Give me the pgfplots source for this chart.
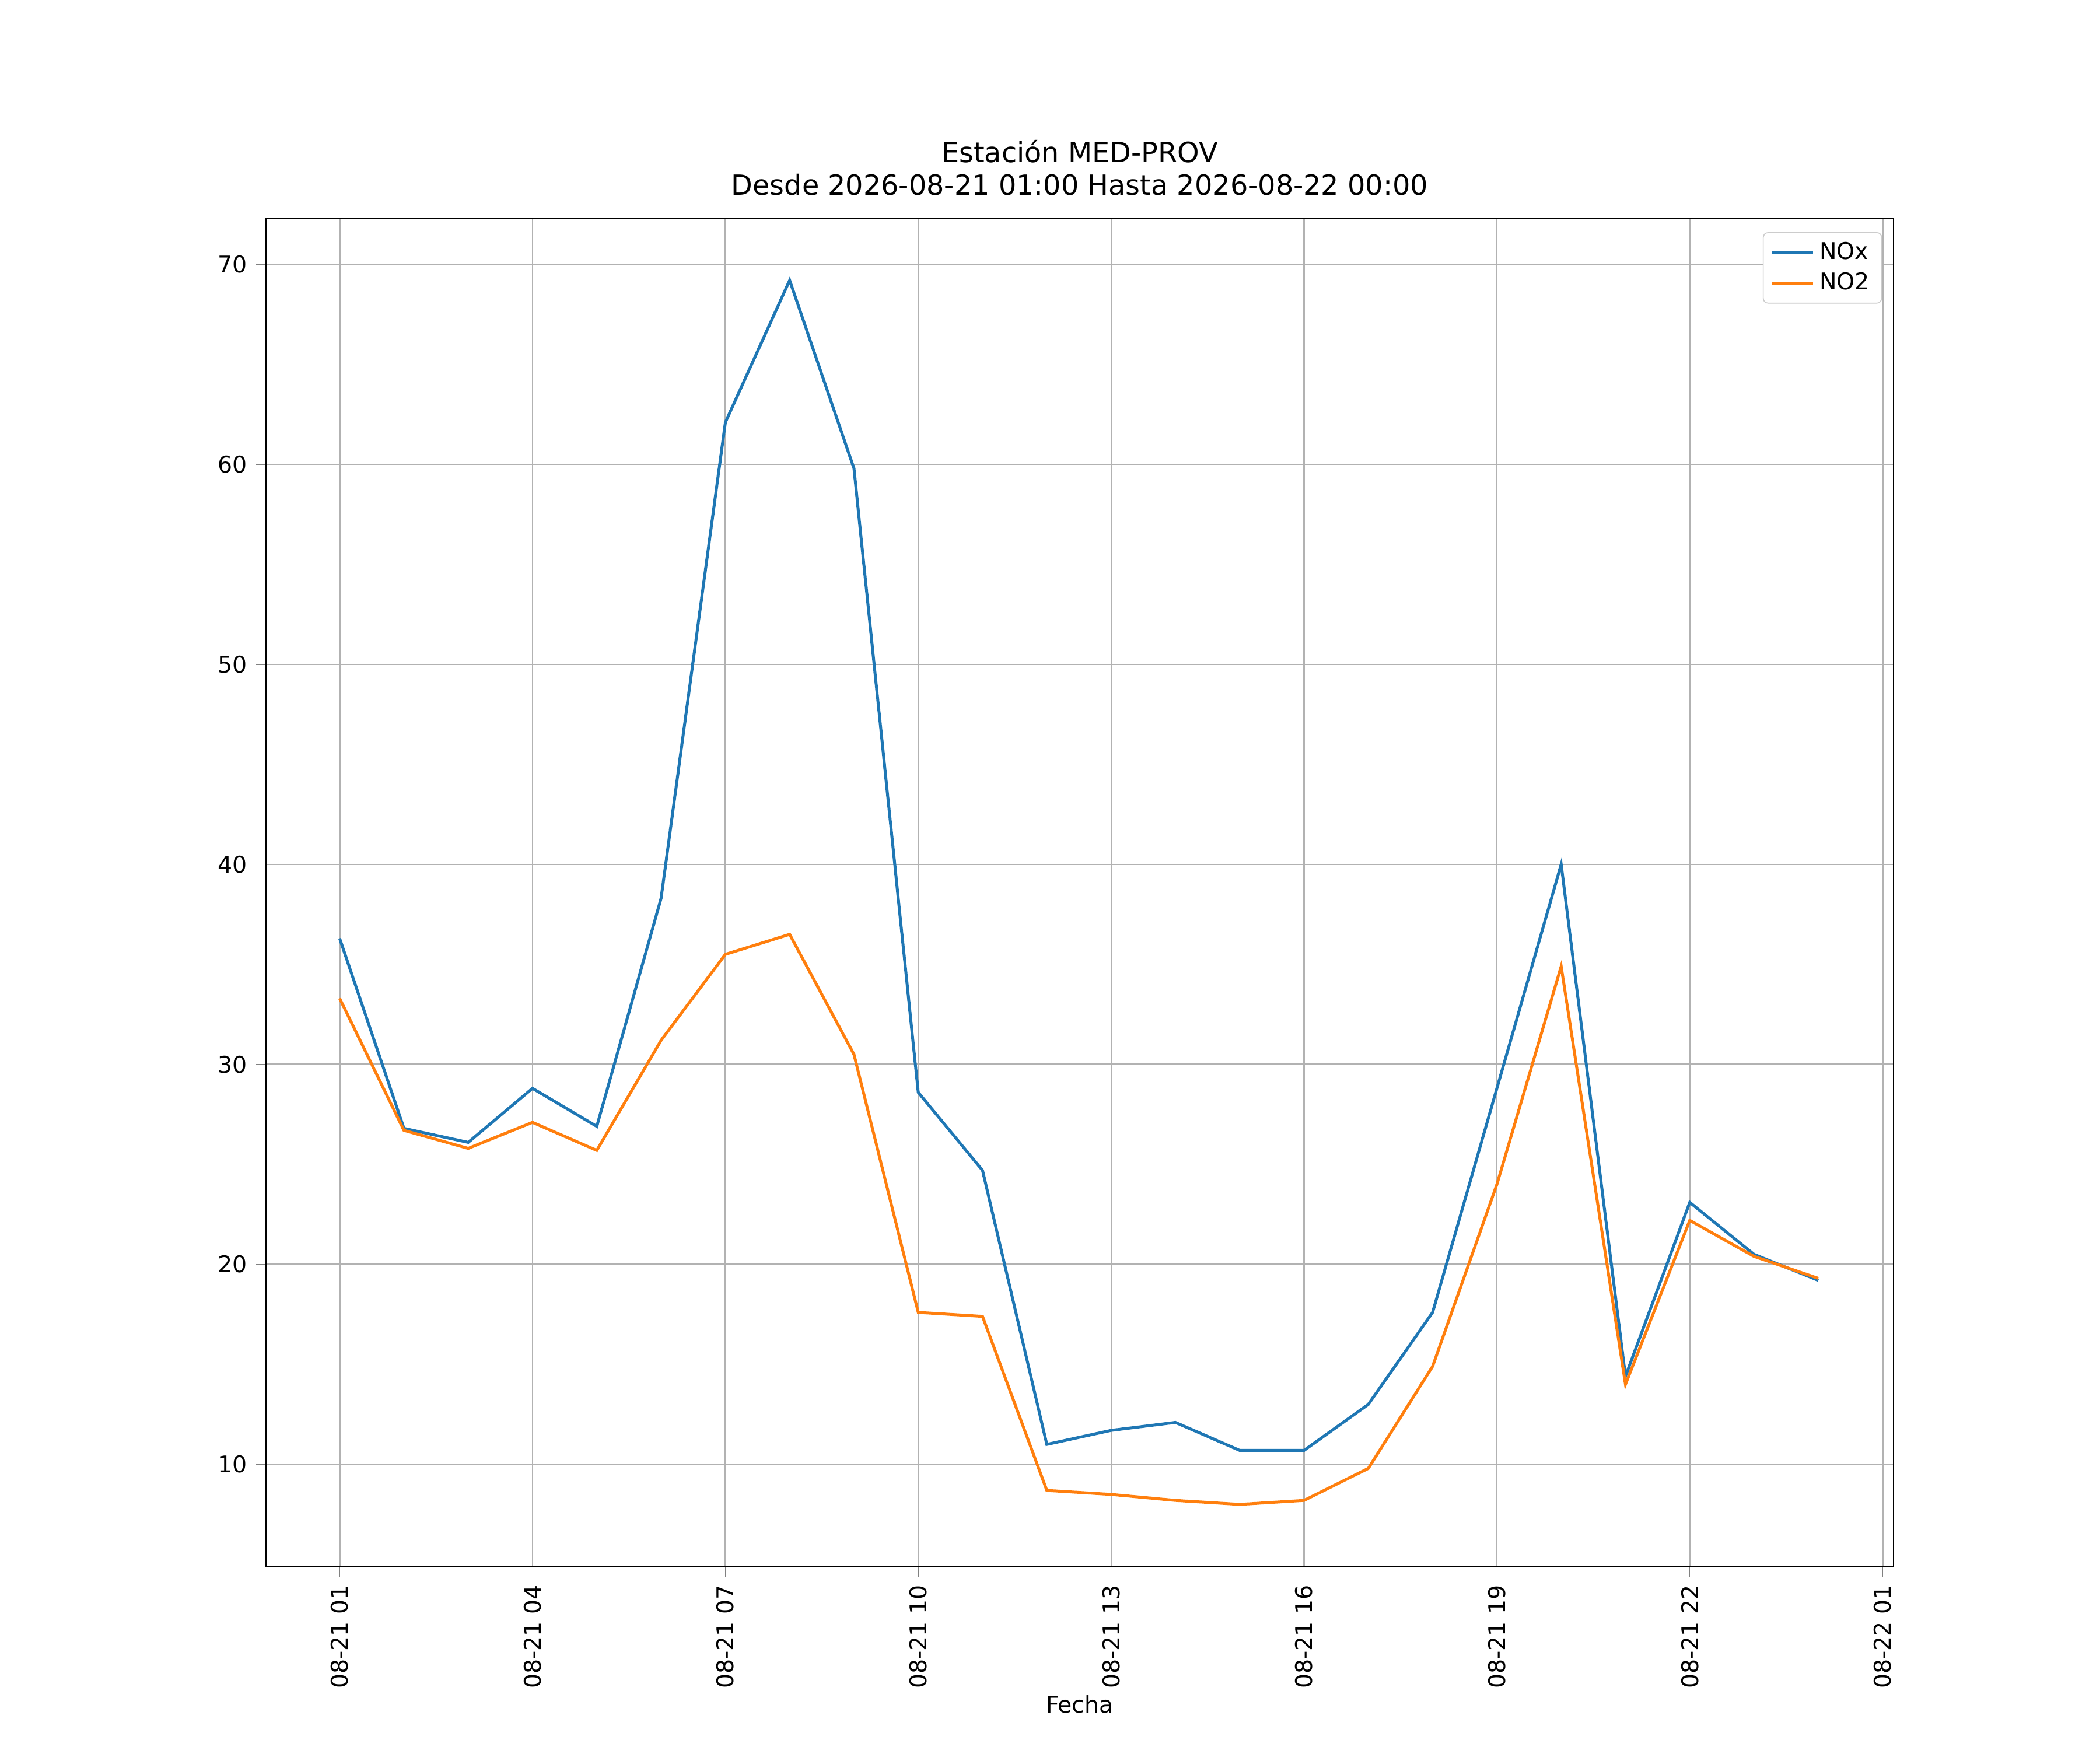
\documentclass[border=0pt]{standalone}
\usepackage{pgfplots}
\pgfplotsset{compat=1.18}
\usepackage{fontspec}
\setmainfont{DejaVu Sans}
\definecolor{mblue}{HTML}{1F77B4}
\definecolor{morange}{HTML}{FF7F0E}
\begin{document}
\begin{tikzpicture}
\path[use as bounding box] (-1.52in,-1.05in) rectangle (10.48in,8.95in);
\begin{axis}[at={(0,0)},anchor=south west,scale only axis,width=9.30in,height=7.70in,
xmin=-0.146,xmax=25.17,ymin=4.91,ymax=72.28,
xtick={1,4,7,10,13,16,19,22,25},
xticklabels={08-21 01,08-21 04,08-21 07,08-21 10,08-21 13,08-21 16,08-21 19,08-21 22,08-22 01},
xticklabel style={rotate=90,anchor=east},
ytick={10,20,30,40,50,60,70},
/pgf/number format/assume math mode=true,
tick label style={font=\fontsize{9.5}{11}\selectfont},
grid=major,grid style={gray!60,line width=0.6pt},
tick align=outside,tick pos=left,
xlabel={Fecha},xlabel style={font=\fontsize{9.5}{11}\selectfont,yshift=4pt},
title={Estación MED-PROV\\Desde 2026-08-21 01:00 Hasta 2026-08-22 00:00},
title style={align=center,font=\fontsize{11.5}{13.5}\selectfont},
legend cell align=left,
legend style={at={(0.993,0.99)},anchor=north east,font=\fontsize{9.5}{11}\selectfont,draw=gray!40,rounded corners=2pt},
]
\addplot[mblue,line width=1.2pt] coordinates {(1,36.3)(2,26.8)(3,26.1)(4,28.8)(5,26.9)(6,38.3)(7,62.1)(8,69.2)(9,59.8)(10,28.6)(11,24.7)(12,11.0)(13,11.7)(14,12.1)(15,10.7)(16,10.7)(17,13.0)(18,17.6)(19,28.8)(20,40.0)(21,14.4)(22,23.1)(23,20.5)(24,19.2)};
\addlegendentry{NOx}
\addplot[morange,line width=1.2pt] coordinates {(1,33.3)(2,26.7)(3,25.8)(4,27.1)(5,25.7)(6,31.2)(7,35.5)(8,36.5)(9,30.5)(10,17.6)(11,17.4)(12,8.7)(13,8.5)(14,8.2)(15,8.0)(16,8.2)(17,9.8)(18,14.9)(19,24.0)(20,34.9)(21,14.0)(22,22.2)(23,20.4)(24,19.3)};
\addlegendentry{NO2}
\end{axis}
\end{tikzpicture}
\end{document}
